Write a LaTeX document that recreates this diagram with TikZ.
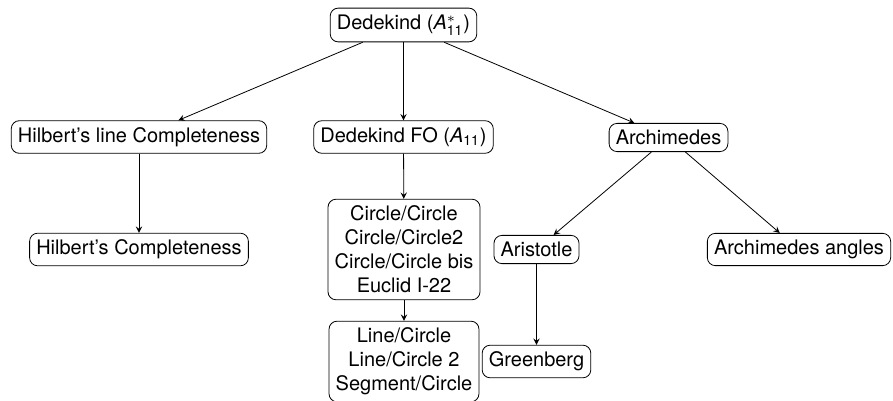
\documentclass[tikz,border=0pt]{standalone}
\usepackage{fontspec}
\setmainfont{TeX Gyre Heros}
\usetikzlibrary{arrows}
\tikzset{box/.style = {draw, rounded corners, align=center}}
\tikzset{arrow/.style = {->,>=stealth}}

\begin{document}
\begin{tikzpicture}[x=0.5pt,y=-0.5pt]
\useasboundingbox (0,0) rectangle (893,401);

\node[box] (ded) at (403.5,25) {Dedekind ($\mathit{A}^{*}_{\mathrm{11}}$)};

\node[box] (hline) at (139,137) {Hilbert's line Completeness};
\node[box] (dedfo) at (403.5,137) {Dedekind FO ($\mathit{A}_{\mathrm{11}}$)};
\node[box] (arch) at (668.5,137.5) {Archimedes};

\node[box] (hilb) at (139,249.5) {Hilbert's Completeness};
\node[box] (cc) at (404,249.5) {Circle/Circle\\Circle/Circle2\\Circle/Circle bis\\Euclid I-22};
\node[box] (arist) at (536.5,249.5) {Aristotle};
\node[box] (archang) at (799,249.5) {Archimedes angles};

\node[box] (lc) at (404,361.5) {Line/Circle\\Line/Circle 2\\Segment/Circle};
\node[box] (green) at (536.5,361.5) {Greenberg};

\draw[arrow] (ded) -- (hline);
\draw[arrow] (ded) -- (dedfo);
\draw[arrow] (ded) -- (arch);
\draw[arrow] (hline) -- (hilb);
\draw[arrow] (dedfo) -- (cc);
\draw[arrow] (cc) -- (lc);
\draw[arrow] (arch) -- (arist);
\draw[arrow] (arch) -- (archang);
\draw[arrow] (arist) -- (green);

\end{tikzpicture}
\end{document}
